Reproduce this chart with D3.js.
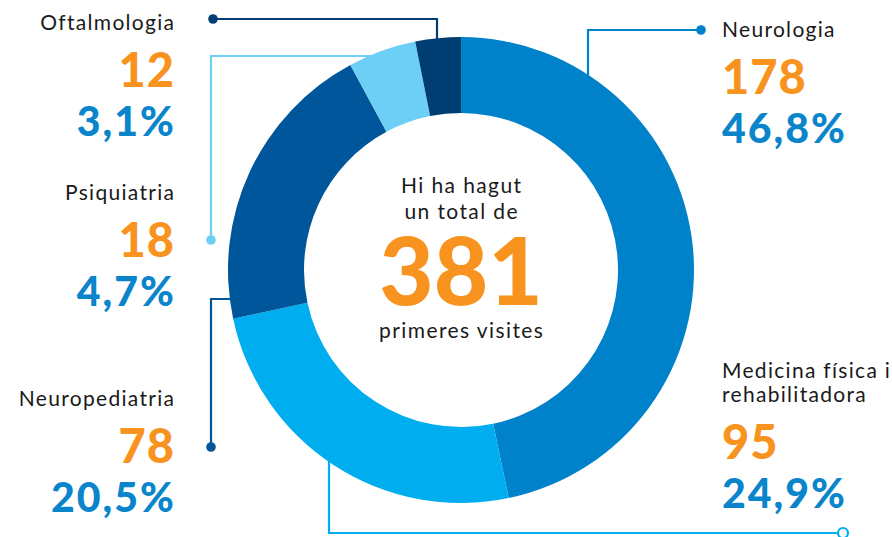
<!DOCTYPE html>
<html>
<head>
<meta charset="utf-8">
<script src="https://cdn.jsdelivr.net/npm/d3@7"></script>
<style>
  body { margin: 0; background: #fff; }
  text { font-family: Lato, "Noto Sans", sans-serif; }
</style>
</head>
<body>
<script>
// data
var categories = ["Neurologia", "Medicina física i rehabilitadora", "Neuropediatria", "Psiquiatria", "Oftalmologia"];
var values = [178, 95, 78, 18, 12];
var percents = ["46,8%", "24,9%", "20,5%", "4,7%", "3,1%"];
var colors = ["#0082ca", "#00aeef", "#00569a", "#6dcff6", "#003d73"];
var total = 381;

var width = 892, height = 537;
var cx = 461, cy = 270, outerR = 233, innerR = 157;

var svg = d3.select("body").append("svg")
    .attr("width", width)
    .attr("height", height);

// leader lines (drawn under the ring)
var leaders = [
  {i: 0, pts: [[588, 120], [588, 30], [701, 30]], end: "dot"},
  {i: 1, pts: [[329, 450], [329, 533], [843, 533]], end: "ring"},
  {i: 2, pts: [[250, 299], [211, 299], [211, 447]], end: "dot"},
  {i: 3, pts: [[380, 56], [211, 56], [211, 240]], end: "dot"},
  {i: 4, pts: [[437, 60], [437, 19], [213, 19]], end: "dot"}
];

var lineG = svg.append("g");
leaders.forEach(function(l) {
  lineG.append("path")
      .attr("d", d3.line()(l.pts))
      .attr("fill", "none")
      .attr("stroke", colors[l.i])
      .attr("stroke-width", 2.2);
  var last = l.pts[l.pts.length - 1];
  if (l.end == "dot") {
    lineG.append("circle")
        .attr("cx", last[0]).attr("cy", last[1]).attr("r", 4.8)
        .attr("fill", colors[l.i]);
  } else {
    lineG.append("circle")
        .attr("cx", last[0]).attr("cy", last[1]).attr("r", 5)
        .attr("fill", "#fff")
        .attr("stroke", colors[l.i])
        .attr("stroke-width", 2.2);
  }
});

// the ring
var pie = d3.pie().sort(null).value(function(d) { return d; });
var arc = d3.arc().innerRadius(innerR).outerRadius(outerR);

svg.append("g")
    .attr("transform", "translate(" + cx + "," + cy + ")")
  .selectAll("path")
    .data(pie(values))
  .enter().append("path")
    .attr("d", arc)
    .attr("fill", function(d, i) { return colors[i]; });

// labels
var labels = [
  {i: 4, x: 174, y: 30, anchor: "end", lines: ["Oftalmologia"]},
  {i: 3, x: 174, y: 200, anchor: "end", lines: ["Psiquiatria"]},
  {i: 2, x: 174, y: 406, anchor: "end", lines: ["Neuropediatria"]},
  {i: 0, x: 722, y: 37, anchor: "start", lines: ["Neurologia"]},
  {i: 1, x: 722, y: 378, anchor: "start", lines: ["Medicina física i", "rehabilitadora"]}
];

labels.forEach(function(l) {
  var g = svg.append("g").attr("text-anchor", l.anchor);
  // letter-spacing adds room after the last glyph too; pull right-aligned text back
  var fix = function(ls) { return l.anchor == "end" ? ls : 0; };
  l.lines.forEach(function(s, k) {
    g.append("text")
        .attr("x", l.x + fix(1.3)).attr("y", l.y + k * 24)
        .attr("font-size", 21)
        .attr("letter-spacing", 1.3)
        .attr("fill", "#1a1a1a")
        .text(s);
  });
  var top = l.y + (l.lines.length - 1) * 24;
  g.append("text")
      .attr("x", l.x + fix(1)).attr("y", top + 57)
      .attr("font-size", 47)
      .attr("font-weight", 900)
      .attr("letter-spacing", 1)
      .attr("fill", "#f7931e")
      .text(values[l.i]);
  g.append("text")
      .attr("x", l.x + fix(2)).attr("y", top + 106)
      .attr("font-size", 41)
      .attr("font-weight", 900)
      .attr("letter-spacing", 2)
      .attr("fill", "#0a85cc")
      .text(percents[l.i]);
});

// centre text
var c = svg.append("g").attr("text-anchor", "middle");
function centreLine(s, y) {
  c.append("text").attr("x", cx + 0.7).attr("y", y)
      .attr("font-size", 21).attr("letter-spacing", 1.4)
      .attr("fill", "#1a1a1a").text(s);
}
centreLine("Hi ha hagut", 193);
centreLine("un total de", 219);
c.append("text").attr("x", cx).attr("y", 305).attr("font-size", 94).attr("font-weight", 900).attr("fill", "#f7931e").text(total);
centreLine("primeres visites", 338);
</script>
</body>
</html>
